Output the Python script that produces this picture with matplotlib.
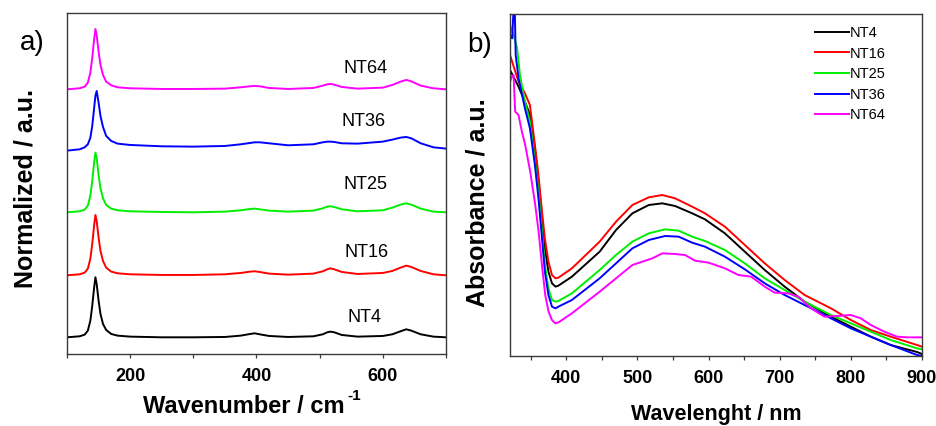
import matplotlib
matplotlib.use("Agg")
import matplotlib.pyplot as plt
from matplotlib.ticker import MultipleLocator, NullLocator

plt.rcParams['font.family'] = ['Liberation Sans', 'DejaVu Sans']

# ---------------- Panel a) Raman spectra (offset, normalized) ----------------
raman_x = [100, 120, 128, 133, 137, 140, 143, 145, 147, 150, 153, 157, 162, 170, 180,
           200, 250, 300, 350, 375, 390, 397, 405, 420, 450, 490, 505, 512, 517, 523,
           535, 560, 600, 615, 628, 637, 645, 660, 680, 700]

raman_nt4 = [0.51, 0.54, 0.59, 0.71, 1.01, 1.46, 2.01, 2.31, 2.11, 1.61, 1.21, 0.91, 0.73, 0.61, 0.56,
             0.53, 0.51, 0.51, 0.52, 0.56, 0.61, 0.63, 0.60, 0.55, 0.52, 0.54, 0.60, 0.66, 0.68, 0.66,
             0.58, 0.53, 0.55, 0.60, 0.69, 0.75, 0.71, 0.60, 0.53, 0.51]
raman_nt16 = [2.37, 2.40, 2.45, 2.57, 2.87, 3.32, 3.88, 4.18, 4.00, 3.50, 3.10, 2.80, 2.60, 2.48, 2.43,
              2.40, 2.38, 2.38, 2.40, 2.44, 2.48, 2.49, 2.47, 2.42, 2.39, 2.42, 2.49, 2.55, 2.58, 2.55,
              2.47, 2.41, 2.44, 2.50, 2.60, 2.66, 2.62, 2.50, 2.40, 2.37]
raman_nt25 = [4.26, 4.29, 4.34, 4.46, 4.76, 5.21, 5.77, 6.05, 5.88, 5.38, 4.98, 4.68, 4.48, 4.37, 4.32,
              4.29, 4.27, 4.26, 4.28, 4.32, 4.36, 4.37, 4.35, 4.31, 4.28, 4.31, 4.38, 4.43, 4.44, 4.42,
              4.35, 4.29, 4.32, 4.40, 4.49, 4.53, 4.49, 4.37, 4.28, 4.26]
raman_nt36 = [6.11, 6.15, 6.21, 6.30, 6.50, 6.85, 7.40, 7.75, 7.90, 7.55, 7.15, 6.82, 6.55, 6.40, 6.32,
              6.28, 6.24, 6.23, 6.25, 6.30, 6.34, 6.36, 6.36, 6.33, 6.27, 6.30, 6.36, 6.38, 6.38, 6.37,
              6.33, 6.32, 6.38, 6.44, 6.50, 6.52, 6.48, 6.33, 6.21, 6.17]
raman_nt64 = [7.95, 7.98, 8.03, 8.15, 8.45, 8.90, 9.46, 9.76, 9.58, 9.08, 8.68, 8.38, 8.18, 8.07, 8.01,
              7.98, 7.96, 7.96, 7.97, 8.01, 8.04, 8.05, 8.04, 7.99, 7.96, 7.99, 8.06, 8.10, 8.11, 8.09,
              8.02, 7.97, 8.00, 8.08, 8.18, 8.23, 8.19, 8.06, 7.98, 7.95]

raman_labels = ["NT4", "NT16", "NT25", "NT36", "NT64"]
raman_label_x = [571, 575, 573, 570, 573]
raman_label_y = [1.11, 3.06, 5.08, 6.98, 8.58]

# ---------------- Panel b) UV-Vis absorbance ----------------
wl_nt4 = [321, 333, 342, 349, 356, 361, 366, 370, 375, 380, 385, 389, 408, 447, 470, 493,
          516, 535, 553, 577, 595, 623, 651, 679, 707, 735, 772, 800, 828, 856, 893, 900]
abs_nt4 = [8.58, 8.08, 7.63, 7.23, 6.23, 5.23, 4.13, 3.23, 2.53, 2.18, 2.08, 2.11, 2.38, 3.13, 3.78, 4.28,
           4.53, 4.58, 4.50, 4.28, 4.10, 3.68, 3.13, 2.58, 2.08, 1.63, 1.18, 0.88, 0.58, 0.33, 0.12, 0.06]

wl_nt16 = [321, 333, 342, 349, 356, 361, 366, 370, 375, 380, 385, 389, 408, 447, 470, 493,
           516, 535, 553, 577, 595, 623, 651, 679, 707, 735, 772, 800, 828, 856, 893, 900]
abs_nt16 = [9.03, 8.23, 7.88, 7.53, 6.33, 5.43, 4.33, 3.53, 2.83, 2.43, 2.33, 2.35, 2.63, 3.43, 4.03, 4.53,
            4.76, 4.83, 4.73, 4.48, 4.28, 3.88, 3.33, 2.78, 2.28, 1.83, 1.43, 1.08, 0.78, 0.58, 0.33, 0.28]

wl_nt25 = [321, 326, 331, 335, 342, 349, 356, 361, 366, 370, 375, 380, 385, 389, 408, 447, 470,
           493, 516, 539, 558, 577, 595, 623, 651, 679, 707, 735, 772, 800, 828, 856, 893, 900]
abs_nt25 = [9.93, 9.63, 9.23, 8.43, 7.63, 7.03, 5.83, 4.93, 3.73, 2.73, 2.03, 1.68, 1.63, 1.65, 1.88, 2.58, 3.03,
            3.43, 3.68, 3.80, 3.76, 3.58, 3.45, 3.18, 2.78, 2.33, 1.98, 1.63, 1.23, 0.98, 0.73, 0.48, 0.23, 0.20]

wl_nt36 = [321, 324, 326, 327.5, 329, 333, 342, 349, 356, 361, 366, 370, 375, 380, 385, 389, 408, 447,
           470, 493, 516, 539, 558, 577, 595, 623, 651, 679, 707, 735, 772, 800, 828, 856, 893, 900]
abs_nt36 = [9.63, 9.53, 10.4, 10.6, 9.03, 8.33, 7.43, 6.83, 5.73, 4.73, 3.53, 2.53, 1.83, 1.48, 1.43, 1.48, 1.68, 2.33,
            2.78, 3.23, 3.48, 3.60, 3.58, 3.40, 3.28, 2.98, 2.60, 2.18, 1.83, 1.53, 1.13, 0.83, 0.58, 0.33, 0.03, 0.0]

wl_nt64 = [321, 323.6, 326, 328.3, 333, 337.7, 342.4, 349.4, 356.5, 361.2, 365.9, 370.5, 375.2, 379.9, 384.6,
           389.2, 408, 447, 470, 493, 507, 521, 535, 553, 567, 581, 600, 623, 642, 660, 679, 693, 712, 726,
           744, 763, 781, 800, 814, 828, 847, 865, 879, 893, 900]
abs_nt64 = [8.23, 8.38, 8.43, 7.33, 7.23, 6.73, 6.33, 5.53, 4.53, 3.73, 2.73, 1.83, 1.33, 1.08, 0.98,
            1.01, 1.28, 1.93, 2.33, 2.73, 2.83, 2.93, 3.08, 3.06, 3.03, 2.86, 2.80, 2.63, 2.43, 2.38, 2.08, 1.90, 1.88, 1.78,
            1.43, 1.18, 1.20, 1.23, 1.13, 0.93, 0.73, 0.58, 0.56, 0.56, 0.56]

series_names = ["NT4", "NT16", "NT25", "NT36", "NT64"]
colors = ["#000000", "#ff0000", "#00ee00", "#0000ff", "#ff00ff"]

# ---------------- Figure ----------------
fig = plt.figure(figsize=(9.37, 4.26), dpi=100)
W, H = 937.0, 426.0
axA = fig.add_axes([67 / W, 1 - 354.3 / H, (446 - 67) / W, (354.3 - 13.3) / H])
axB = fig.add_axes([510 / W, 1 - 356 / H, (922 - 510) / W, (356 - 14) / H])

spine_col = "#3a3a3a"
for ax in (axA, axB):
    for s in ax.spines.values():
        s.set_color(spine_col)
        s.set_linewidth(1.0)
    ax.yaxis.set_major_locator(NullLocator())
    ax.tick_params(axis='x', which='both', direction='out', top=False, bottom=True,
                   colors=spine_col, labelcolor='black')
    ax.tick_params(axis='x', which='major', length=3.2, width=0.9, pad=7,
                   labelsize=13)
    ax.tick_params(axis='x', which='minor', length=3.0, width=0.9)
    ax.tick_params(axis='y', which='both', left=False, right=False, labelleft=False)

# Panel a
raman_series = [raman_nt4, raman_nt16, raman_nt25, raman_nt36, raman_nt64]
for ys, c in zip(raman_series, colors):
    axA.plot(raman_x, ys, color=c, lw=1.4)
for lab, lx, ly in zip(raman_labels, raman_label_x, raman_label_y):
    axA.text(lx, ly, lab, fontsize=13, ha='center', va='center')
axA.set_xlim(100, 700)
axA.set_ylim(0, 10.23)
axA.xaxis.set_major_locator(MultipleLocator(200))
axA.xaxis.set_minor_locator(MultipleLocator(100))
for lab in axA.get_xticklabels():
    lab.set_fontweight('bold')

# Panel b
wls = [wl_nt4, wl_nt16, wl_nt25, wl_nt36, wl_nt64]
abss = [abs_nt4, abs_nt16, abs_nt25, abs_nt36, abs_nt64]
for x, y, c, n in zip(wls, abss, colors, series_names):
    axB.plot(x, y, color=c, lw=1.4, label=n)
axB.set_xlim(321, 900)
axB.set_ylim(0, 10.26)
axB.xaxis.set_major_locator(MultipleLocator(100))
axB.xaxis.set_minor_locator(MultipleLocator(50))
for lab in axB.get_xticklabels():
    lab.set_fontweight('bold')

fig.legend(loc='upper left', bbox_to_anchor=(815 / W, 1 - 26 / H),
           bbox_transform=fig.transFigure, frameon=False, fontsize=10.5,
           handlelength=2.3, handletextpad=0.1, labelspacing=0.45,
           borderpad=0, borderaxespad=0)

# Labels
fig.text(32 / W, 1 - 43 / H, "a)", fontsize=20, ha='center', va='center')
fig.text(479.5 / W, 1 - 45 / H, "b)", fontsize=20, ha='center', va='center')
fig.text(26 / W, 1 - 188.5 / H, "Normalized / a.u.", fontsize=18, fontweight='bold',
         rotation=90, ha='center', va='center')
fig.text(478 / W, 1 - 202.5 / H, "Absorbance / a.u.", fontsize=18, fontweight='bold',
         rotation=90, ha='center', va='center')
fig.text(345 / W, 13 / H, "Wavenumber / cm", fontsize=17, fontweight='bold',
         ha='right', va='baseline')
fig.text(347 / W, 26 / H, "-1", fontsize=11, fontweight='bold',
         ha='left', va='baseline')
fig.text(716 / W, 6 / H, "Wavelenght / nm", fontsize=15.5, fontweight='bold',
         ha='center', va='baseline')

fig.savefig("out.png", dpi=100)
